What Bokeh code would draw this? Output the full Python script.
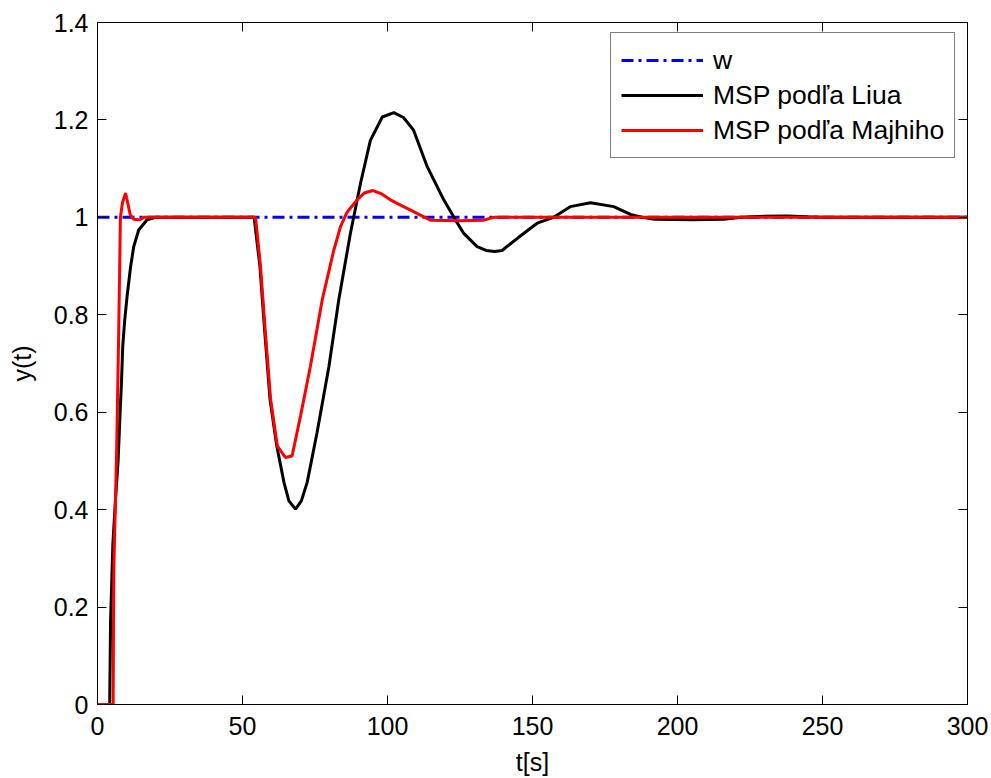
from bokeh.plotting import figure
from bokeh.models import Range1d, LinearAxis, FixedTicker
from bokeh.embed import file_html
from bokeh.resources import INLINE

# ---- data ----
t_w = [0, 300]
y_w = [1.0, 1.0]

t_liu = [0, 4.2, 4.5, 5.3, 6.2, 7.1, 7.8, 8.3, 8.7, 9.4, 10.2, 11.4, 12.5, 14.2, 17.1, 20,
         54.0, 56.0, 57.7, 59.5, 61.8, 64.3, 66, 68.3, 70.3, 72.3, 75.7, 79.8, 83.2, 87.2,
         90.7, 94.1, 98.2, 102.2, 105.5, 109, 113.7, 119.4, 122.9, 126.3, 130.9, 134,
         137, 139.5, 145, 151.6, 157.3, 163, 170, 178, 183.8, 188, 192, 205, 216, 222,
         228, 238, 245, 250, 300]
y_liu = [0, 0, 0.17, 0.33, 0.42, 0.50, 0.60, 0.667, 0.735, 0.79, 0.838, 0.898, 0.94, 0.974, 0.995, 1.0,
         1.0, 0.9, 0.763, 0.626, 0.531, 0.456, 0.418, 0.401, 0.418, 0.456, 0.558, 0.694, 0.831, 0.967,
         1.07, 1.158, 1.206, 1.215, 1.205, 1.179, 1.104, 1.036, 1.0, 0.967, 0.94, 0.932,
         0.930, 0.932, 0.958, 0.988, 1.0, 1.022, 1.03, 1.022, 1.006, 1.0, 0.996, 0.995, 0.996, 1.0,
         1.002, 1.003, 1.001, 1.0, 1.0]

t_majhi = [0, 5.4, 5.6, 6.6, 7.3, 7.9, 8.6, 9.7, 10.4, 11.3, 12.5, 14.5, 16,
           54.5, 56.2, 57.9, 59.7, 62, 64.8, 67.1, 70, 73.4, 77.5, 81.5, 83.8, 86, 89.5,
           92, 95, 98, 101, 104.5, 108, 112.5, 115, 125, 133, 136.6, 300]
y_majhi = [0, 0, 0.27, 0.52, 0.76, 1.0, 1.03, 1.05, 1.03, 1.005, 0.996, 0.995, 1.0,
           1.0, 0.9, 0.763, 0.626, 0.531, 0.507, 0.51, 0.592, 0.694, 0.831, 0.933, 0.981, 1.01, 1.036,
           1.05, 1.055, 1.048, 1.036, 1.025, 1.015, 1.001, 0.994, 0.993, 0.994, 1.0, 1.0]

x_ticks = [0, 50, 100, 150, 200, 250, 300]
y_ticks = [0, 0.2, 0.4, 0.6, 0.8, 1.0, 1.2, 1.4]
y_tick_labels = ["0", "0.2", "0.4", "0.6", "0.8", "1", "1.2", "1.4"]

labels = ["w", "MSP podľa Liua", "MSP podľa Majhiho"]

FONT = "Liberation Sans"
FS = "25px"

p = figure(width=991, height=778, output_backend="svg", toolbar_location=None,
           x_range=Range1d(0, 300), y_range=Range1d(0, 1.4),
           min_border_left=97, min_border_right=24, min_border_top=22, min_border_bottom=72,
           background_fill_color="white", border_fill_color="white")
p.grid.visible = False
p.outline_line_color = "black"
p.outline_line_width = 1

p.line(t_w, y_w, line_color="blue", line_width=3, line_dash="12 5 3 5", legend_label=labels[0])
p.line(t_liu, y_liu, line_color="black", line_width=3, legend_label=labels[1])
p.line(t_majhi, y_majhi, line_color="red", line_width=3, legend_label=labels[2])

xax = p.xaxis[0]
yax = p.yaxis[0]
xax.ticker = FixedTicker(ticks=x_ticks)
yax.ticker = FixedTicker(ticks=y_ticks)
yax.major_label_overrides = {v: s for v, s in zip(y_ticks, y_tick_labels)}
for ax in (xax, yax):
    ax.major_tick_in = 9
    ax.major_tick_out = 0
    ax.minor_tick_in = 0
    ax.minor_tick_out = 0
    ax.major_label_text_font = FONT
    ax.major_label_text_font_size = FS
    ax.major_label_text_color = "black"
    ax.axis_label_text_font = FONT
    ax.axis_label_text_font_size = FS
    ax.axis_label_text_font_style = "normal"
    ax.axis_label_text_color = "black"
    ax.axis_line_color = "black"
    ax.major_tick_line_color = "black"
xax.axis_label = "t[s]"
yax.axis_label = "y(t)"
xax.major_label_text_line_height = 1.0
xax.axis_label_text_line_height = 1.0
xax.major_label_standoff = 12
xax.axis_label_standoff = 10
yax.major_label_standoff = 9
yax.axis_label_standoff = 15

# box ticks on top and right (MATLAB style), without labels
top = LinearAxis(ticker=FixedTicker(ticks=x_ticks), major_label_text_font_size="1px",
                 major_label_text_color=None,
                 major_tick_in=9, major_tick_out=0, minor_tick_in=0, minor_tick_out=0,
                 major_label_standoff=0, axis_line_color="black")
right = LinearAxis(ticker=FixedTicker(ticks=y_ticks), major_label_text_font_size="1px",
                   major_label_text_color=None,
                   major_tick_in=9, major_tick_out=0, minor_tick_in=0, minor_tick_out=0,
                   major_label_standoff=0, axis_line_color="black")
p.add_layout(top, "above")
p.add_layout(right, "right")

lg = p.legend[0]
lg.location = (513, 546)
lg.label_text_font = FONT
lg.label_text_font_size = "26.5px"
lg.label_text_color = "black"
lg.glyph_width = 82
lg.glyph_height = 34
lg.label_height = 34
lg.label_standoff = 10
lg.padding = 10
lg.spacing = 1
lg.margin = 0
lg.border_line_color = "black"
lg.border_line_width = 1
lg.background_fill_color = "white"
lg.background_fill_alpha = 1.0

open("out.html", "w").write(file_html(p, INLINE))
